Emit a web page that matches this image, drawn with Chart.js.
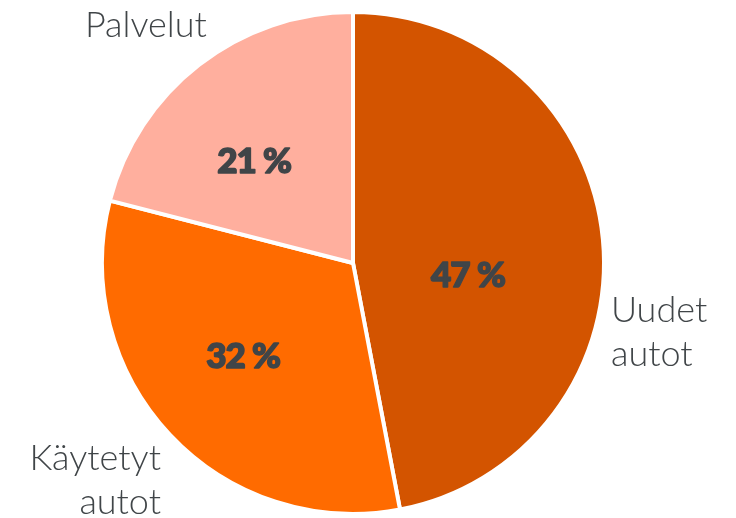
<!DOCTYPE html>
<html>
<head>
<meta charset="utf-8">
<script src="https://cdn.jsdelivr.net/npm/chart.js@4"></script>
<style>
    html, body { margin: 0; padding: 0; background: #fff; }
    #wrap { width: 736px; height: 518px; }
</style>
</head>
<body>
<div id="wrap"><canvas id="pieChart"></canvas></div>
<script>
// data
const categories = [['Uudet', 'autot'], ['Käytetyt', 'autot'], ['Palvelut']];
const shares = [47, 32, 21];
const valueLabels = ['47 %', '32 %', '21 %'];
const sliceColors = ['#D35400', '#FF6B00', '#FFAF9E'];

// label placement, in units of the pie radius from its centre
const valuePos = [[0.458, 0.096], [-0.438, 0.418], [-0.394, -0.359]];
const namePos = [[1.028, 0.235, 'left'], [-0.765, 0.825, 'right'], [-0.582, -0.900, 'right']];

const textColor = '#404548';

const pieLabels = {
    id: 'pieLabels',
    afterDatasetsDraw(chart) {
        const ctx = chart.ctx;
        const arcs = chart.getDatasetMeta(0).data;
        ctx.save();
        arcs.forEach((arc, i) => {
            const { x, y, outerRadius } = arc.getProps(['x', 'y', 'outerRadius'], true);
            // value inside slice (stroked a bit to get the heavy look)
            ctx.font = '900 35px Lato';
            ctx.letterSpacing = '-1px';
            ctx.fillStyle = textColor;
            ctx.strokeStyle = textColor;
            ctx.lineWidth = 1.6;
            ctx.lineJoin = 'round';
            ctx.textAlign = 'center';
            ctx.textBaseline = 'alphabetic';
            const vx = x + valuePos[i][0] * outerRadius;
            const vy = y + valuePos[i][1] * outerRadius;
            ctx.fillText(valueLabels[i], vx, vy);
            ctx.strokeText(valueLabels[i], vx, vy);
            // category name outside
            ctx.font = '300 36px Lato';
            ctx.letterSpacing = '0px';
            ctx.textAlign = namePos[i][2];
            const lx = x + namePos[i][0] * outerRadius;
            const ly = y + namePos[i][1] * outerRadius;
            categories[i].forEach((line, j) => {
                ctx.fillText(line, lx, ly + j * 44);
            });
        });
        ctx.restore();
    }
};

document.addEventListener('DOMContentLoaded', () => {
    const ctx = document.getElementById('pieChart').getContext('2d');
    new Chart(ctx, {
        type: 'pie',
        data: {
            labels: categories.map(c => c.join(' ')),
            datasets: [{
                data: shares,
                backgroundColor: sliceColors,
                borderColor: '#ffffff',
                borderWidth: 4,
                radius: 251
            }]
        },
        options: {
            responsive: true,
            maintainAspectRatio: false,
            animation: false,
            layout: { padding: { top: 12, bottom: 4, left: 0, right: 30 } },
            plugins: {
                legend: { display: false },
                tooltip: { enabled: false }
            }
        },
        plugins: [pieLabels]
    });
});
</script>
</body>
</html>
